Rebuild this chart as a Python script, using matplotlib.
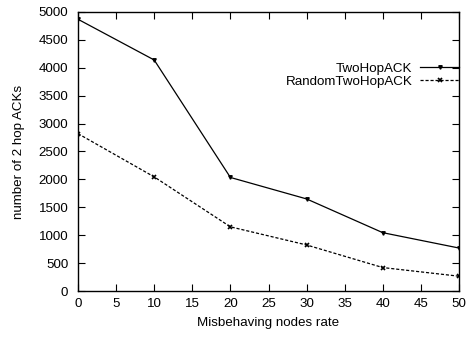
import matplotlib
matplotlib.use("Agg")
import matplotlib.pyplot as plt

rates = [0, 10, 20, 30, 40, 50]
two_hop_ack = [4870, 4140, 2035, 1650, 1045, 770]
random_two_hop_ack = [2820, 2045, 1150, 825, 420, 265]

plt.rcParams['font.family'] = ['Liberation Sans', 'DejaVu Sans']
plt.rcParams['font.size'] = 9.6

fig = plt.figure(figsize=(4.68, 3.37), dpi=100)
ax = fig.add_axes([78 / 468, 1 - 291 / 337, (459 - 78) / 468, (291 - 12) / 337])

ax.plot(rates, two_hop_ack, color='black', lw=0.9, marker='v', ms=2.5,
        label='TwoHopACK')
ax.plot(rates, random_two_hop_ack, color='black', lw=0.9, ls=(0, (2.5, 1.5)),
        marker='x', ms=3, mew=1.2, label='RandomTwoHopACK')

ax.set_xlim(0, 50)
ax.set_ylim(0, 5000)
ax.set_xticks(range(0, 51, 5))
ax.set_yticks(range(0, 5001, 500))
ax.tick_params(axis='y', pad=7)
ax.tick_params(axis='x', pad=5)
ax.tick_params(direction='in', top=True, right=True, length=5, width=0.8,
               labelsize=9.6)
for s in ax.spines.values():
    s.set_linewidth(1.0)

ax.set_xlabel('Misbehaving nodes rate', fontsize=9.6, labelpad=5)
ax.set_ylabel('number of 2 hop ACKs', fontsize=9.6, labelpad=10)

ax.legend(loc='upper right', bbox_to_anchor=(1.0, 0.819), frameon=False,
          markerfirst=False, handlelength=2.9, handletextpad=0.6,
          labelspacing=0.05, fontsize=9.6, borderaxespad=0.0, borderpad=0.0)

fig.savefig('out.png', dpi=100)
